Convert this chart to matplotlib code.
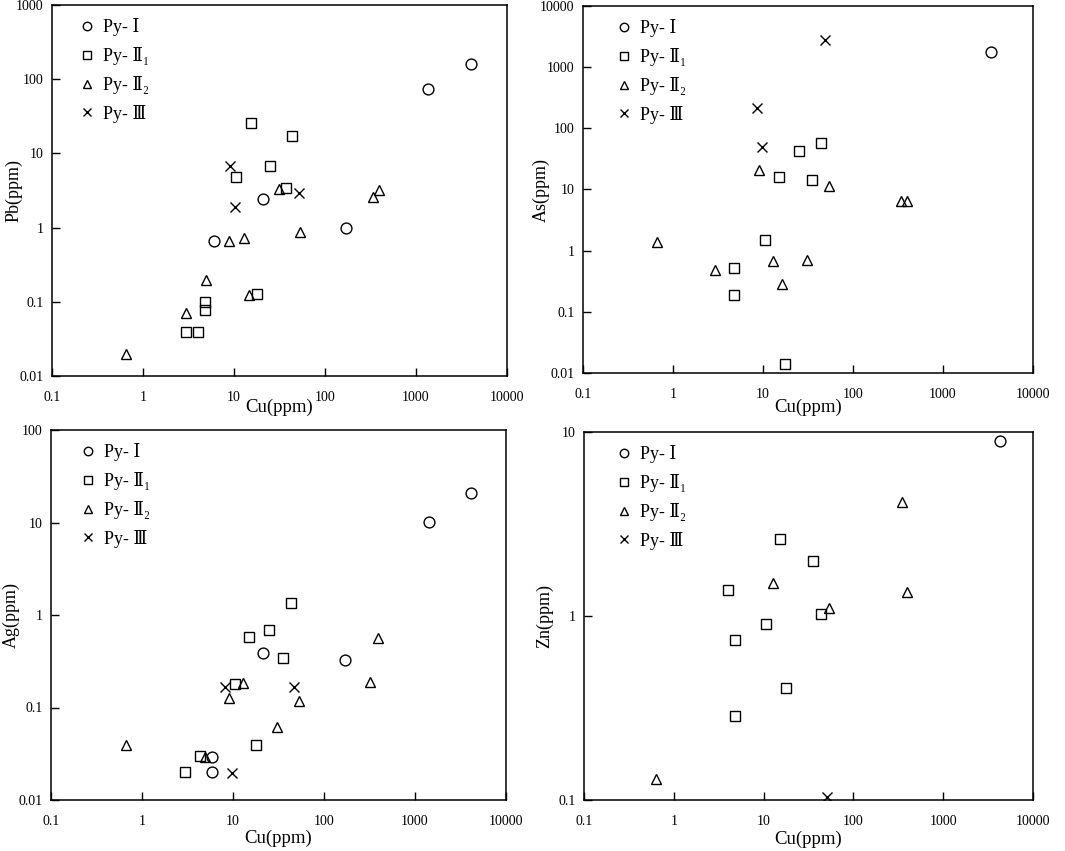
import matplotlib
matplotlib.use('Agg')
import matplotlib.pyplot as plt
from matplotlib.ticker import FixedLocator, FixedFormatter, NullLocator

plt.rcParams['font.family'] = ['Liberation Serif', 'DejaVu Serif', 'Noto Sans CJK SC']

# ---- Cu vs Pb ----
pb_cu_1 = [4055, 1367, 20.6, 171, 6.0]
pb_1 = [161, 74, 2.4, 1.0, 0.65]
pb_cu_21 = [15.2, 43.7, 24.7, 10.4, 37, 17.9, 4.84, 4.84, 2.94, 4.06]
pb_21 = [26, 17.3, 6.7, 4.8, 3.4, 0.128, 0.1, 0.078, 0.039, 0.039]
pb_cu_22 = [31, 334, 392, 52.7, 12.8, 8.8, 4.92, 14.5, 2.97, 0.656]
pb_22 = [3.3, 2.6, 3.2, 0.87, 0.72, 0.65, 0.196, 0.122, 0.070, 0.0198]
pb_cu_3 = [9.1, 10.2, 52]
pb_3 = [6.7, 1.9, 2.9]

# ---- Cu vs As ----
as_cu_1 = [3400]
as_1 = [1750]
as_cu_21 = [44, 24.9, 15, 35, 10.5, 4.76, 4.76, 17.4]
as_21 = [58, 42.7, 16.3, 14.5, 1.5, 0.52, 0.187, 0.0138]
as_cu_22 = [8.95, 53.5, 339, 395, 0.667, 2.96, 12.8, 31, 16.3]
as_22 = [20.9, 11.5, 6.4, 6.4, 1.37, 0.486, 0.69, 0.7, 0.287]
as_cu_3 = [49, 8.6, 9.8]
as_3 = [2820, 218, 50]

# ---- Cu vs Ag ----
ag_cu_1 = [4120, 1440, 21.2, 171, 5.9, 5.9]
ag_1 = [20.6, 10.2, 0.389, 0.324, 0.029, 0.02]
ag_cu_21 = [43.8, 24.7, 15.1, 35, 10.5, 17.9, 4.33, 2.97]
ag_21 = [1.35, 0.68, 0.58, 0.34, 0.18, 0.039, 0.03, 0.02]
ag_cu_22 = [395, 323, 12.9, 9.0, 53.6, 30.7, 0.66, 4.96]
ag_22 = [0.56, 0.187, 0.186, 0.126, 0.117, 0.061, 0.039, 0.029]
ag_cu_3 = [8.2, 47.2, 9.8]
ag_3 = [0.166, 0.166, 0.0194]

# ---- Cu vs Zn ----
zn_cu_1 = [4300]
zn_1 = [8.93]
zn_cu_21 = [15.2, 35.6, 4.05, 43.8, 10.5, 4.8, 17.9, 4.8]
zn_21 = [2.62, 2.0, 1.39, 1.02, 0.90, 0.74, 0.405, 0.287]
zn_cu_22 = [344, 12.8, 398, 53.2, 0.63]
zn_22 = [4.19, 1.52, 1.35, 1.11, 0.13]
zn_cu_3 = [51]
zn_3 = [0.104]

labels = ['Py- Ⅰ', 'Py- Ⅱ₁', 'Py- Ⅱ₂', 'Py- Ⅲ']
markers = ['o', 's', '^', 'x']

# ylabel, y ticks, data, axes box (l, r, t, b px), legend marker x, ylabel x, xlabel y
panels = [
    ('Pb(ppm)', [0.01, 0.1, 1, 10, 100, 1000],
     [(pb_cu_1, pb_1), (pb_cu_21, pb_21), (pb_cu_22, pb_22), (pb_cu_3, pb_3)],
     [52, 507, 5, 376], 35, 29, 23),
    ('As(ppm)', [0.01, 0.1, 1, 10, 100, 1000, 10000],
     [(as_cu_1, as_1), (as_cu_21, as_21), (as_cu_22, as_22), (as_cu_3, as_3)],
     [583, 1033, 6, 373], 41, 33, 26),
    ('Ag(ppm)', [0.01, 0.1, 1, 10, 100],
     [(ag_cu_1, ag_1), (ag_cu_21, ag_21), (ag_cu_22, ag_22), (ag_cu_3, ag_3)],
     [51, 506, 430, 800], 37, 31, 30),
    ('Zn(ppm)', [0.1, 1, 10],
     [(zn_cu_1, zn_1), (zn_cu_21, zn_21), (zn_cu_22, zn_22), (zn_cu_3, zn_3)],
     [584, 1033, 432, 800], 40, 31, 31),
]
xticks = [0.1, 1, 10, 100, 1000, 10000]

W, H = 1065, 851
fig = plt.figure(figsize=(W / 100, H / 100), dpi=100)

def fmt(v):
    return ('%g' % v)

for ylab, yticks, series, box, legx, ylx, xly in panels:
    l, r, t, b = box
    w, h = r - l, b - t
    ax = fig.add_axes([l / W, 1 - b / H, w / W, h / H])
    ax.set_xscale('log')
    ax.set_yscale('log')
    ax.set_xlim(0.1, 10000)
    ax.set_ylim(yticks[0], yticks[-1])
    for (xs, ys), m, lab in zip(series, markers, labels):
        if m == 'x':
            ax.plot(xs, ys, linestyle='none', marker=m, ms=7.5, mec='black',
                    mew=1.0, label=lab)
        else:
            ax.plot(xs, ys, linestyle='none', marker=m, ms=7.8, mfc='none',
                    mec='black', mew=1.0, label=lab)
    ax.xaxis.set_major_locator(FixedLocator(xticks))
    ax.xaxis.set_major_formatter(FixedFormatter([fmt(v) for v in xticks]))
    ax.yaxis.set_major_locator(FixedLocator(yticks))
    ax.yaxis.set_major_formatter(FixedFormatter([fmt(v) for v in yticks]))
    ax.xaxis.set_minor_locator(NullLocator())
    ax.yaxis.set_minor_locator(NullLocator())
    ax.tick_params(direction='in', length=6, width=1, labelsize=10, pad=11)
    ax.tick_params(axis='y', pad=6)
    for s in ax.spines.values():
        s.set_linewidth(1.1)
    ax.set_xlabel('Cu(ppm)', fontsize=13.5)
    ax.xaxis.set_label_coords(0.5, -xly / h, transform=ax.transAxes)
    ax.set_ylabel(ylab, fontsize=13)
    ax.yaxis.set_label_coords(-ylx / w, 0.5, transform=ax.transAxes)
    fs = 13
    em = fs * 100 / 72
    ax.legend(loc='upper left', frameon=False, fontsize=fs, handletextpad=0.35,
              labelspacing=0.6, borderaxespad=0, borderpad=0.4,
              handlelength=1.1, markerscale=0.78,
              bbox_to_anchor=((legx - 0.95 * em) / w, 1 - 6 / h))

fig.savefig('out.png', dpi=100)
